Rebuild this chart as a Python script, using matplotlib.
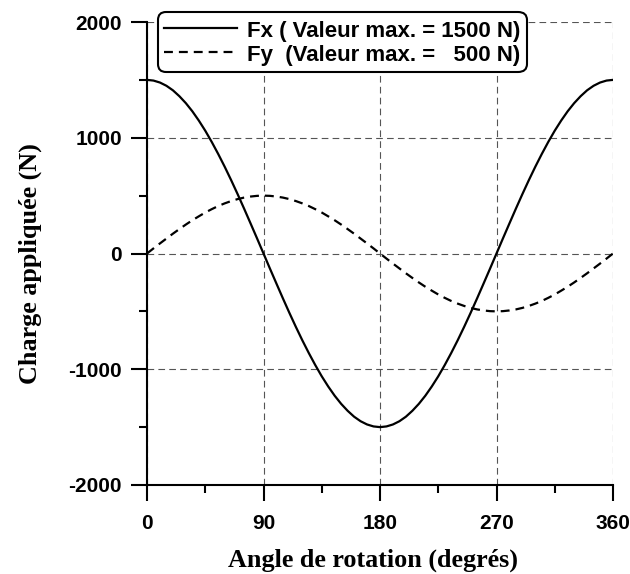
import matplotlib
matplotlib.use('Agg')
import matplotlib.pyplot as plt
from matplotlib.ticker import MultipleLocator

plt.rcParams['axes.unicode_minus'] = False

# Values (every 5 degrees)
angle = list(range(0, 365, 5))
fx = [1500, 1494, 1477, 1449, 1410, 1359, 1299, 1229, 1149, 1061, 964, 860, 750, 634, 513, 388, 260, 131, 0,
      -131, -260, -388, -513, -634, -750, -860, -964, -1061, -1149, -1229, -1299, -1359, -1410, -1449, -1477, -1494, -1500,
      -1494, -1477, -1449, -1410, -1359, -1299, -1229, -1149, -1061, -964, -860, -750, -634, -513, -388, -260, -131, 0,
      131, 260, 388, 513, 634, 750, 860, 964, 1061, 1149, 1229, 1299, 1359, 1410, 1449, 1477, 1494, 1500]
fy = [0, 44, 87, 129, 171, 211, 250, 287, 321, 354, 383, 410, 433, 453, 470, 483, 492, 498, 500,
      498, 492, 483, 470, 453, 433, 410, 383, 354, 321, 287, 250, 211, 171, 129, 87, 44, 0,
      -44, -87, -129, -171, -211, -250, -287, -321, -354, -383, -410, -433, -453, -470, -483, -492, -498, -500,
      -498, -492, -483, -470, -453, -433, -410, -383, -354, -321, -287, -250, -211, -171, -129, -87, -44, 0]

label_fx = 'Fx ( Valeur max. = 1500 N)'
label_fy = 'Fy  (Valeur max. =   500 N)'

sans = ['Liberation Sans', 'DejaVu Sans']
serif = ['Liberation Serif', 'DejaVu Serif']

fig = plt.figure(figsize=(6.3, 5.74), dpi=100)
ax = fig.add_axes([147 / 630, 1 - 485 / 574, 466 / 630, 463 / 574])

ax.plot(angle, fx, color='black', linewidth=1.6, label=label_fx, zorder=3)
ax.plot(angle, fy, color='black', linewidth=1.6, linestyle=(0, (4, 2.7)), label=label_fy, zorder=3)

ax.set_xlim(0, 360)
ax.set_ylim(-2000, 2000)
ax.xaxis.set_major_locator(MultipleLocator(90))
ax.xaxis.set_minor_locator(MultipleLocator(45))
ax.yaxis.set_major_locator(MultipleLocator(1000))
ax.yaxis.set_minor_locator(MultipleLocator(500))

ax.grid(True, which='major', color='#555555', linestyle=(0, (6, 3.8)), linewidth=0.8)
ax.set_axisbelow(True)

for s in ['top', 'right']:
    ax.spines[s].set_visible(False)
for s in ['left', 'bottom']:
    ax.spines[s].set_linewidth(1.5)

ax.tick_params(which='major', direction='out', length=11.5, width=1.5, pad=6.5)
ax.tick_params(which='minor', direction='out', length=6, width=1.5)
ax.tick_params(axis='x', which='major', pad=9.5)
for t in ax.get_xticklabels() + ax.get_yticklabels():
    t.set_fontfamily(sans)
    t.set_fontweight('bold')
    t.set_fontsize(15)

ax.set_xlabel('Angle de rotation (degrés)', fontfamily=serif, fontweight='bold', fontsize=18.8)
ax.set_ylabel('Charge appliquée (N)', fontfamily=serif, fontweight='bold', fontsize=18.8)
ax.xaxis.set_label_coords(0.485, -0.138)
ax.yaxis.set_label_coords(-0.225, 0.479)

leg = ax.legend(loc='upper left', bbox_to_anchor=(158 / 630, 1 - 12 / 574), bbox_transform=fig.transFigure,
                prop={'family': sans, 'weight': 'bold', 'size': 16}, frameon=True, fancybox=True,
                framealpha=1, edgecolor='black', handlelength=3.3, handletextpad=0.45,
                handleheight=1.22, labelspacing=0, borderpad=0.27, borderaxespad=0)
leg.get_frame().set_linewidth(1.5)
leg.get_frame().set_boxstyle('round,pad=0,rounding_size=0.38')

fig.savefig('out.png', dpi=100)
